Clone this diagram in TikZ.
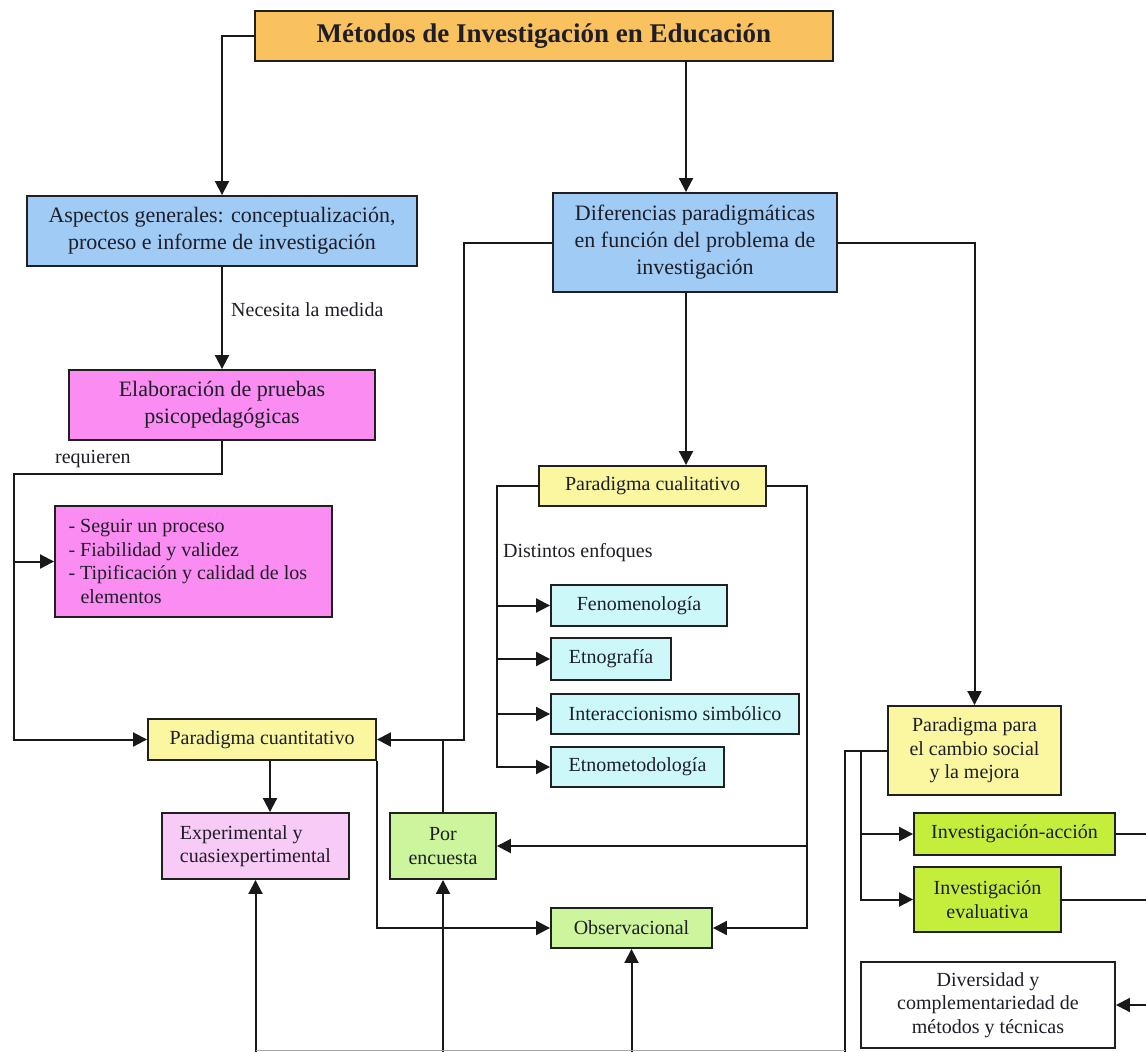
\documentclass[tikz,border=0pt]{standalone}
\usepackage{fontspec}
\setmainfont{Liberation Serif}
\usetikzlibrary{arrows.meta,calc}
\definecolor{cTitle}{HTML}{F9C25E}
\definecolor{cBlue}{HTML}{A0CBF5}
\definecolor{cMag}{HTML}{FA8CF2}
\definecolor{cYel}{HTML}{FAF7A0}
\definecolor{cPink}{HTML}{F8CAF6}
\definecolor{cGreen}{HTML}{CDF59D}
\definecolor{cCyan}{HTML}{CCF8FA}
\definecolor{cLime}{HTML}{C5EE3C}
\definecolor{boxline}{HTML}{202020}
\definecolor{txt}{HTML}{1E1E28}
\begin{document}
\begin{tikzpicture}[x=1pt,y=-1pt,
  box/.style={draw=boxline, line width=1.9pt, inner sep=0pt, text=txt,
    font=\fontsize{20}{23.5}\selectfont, align=center},
  big/.style={font=\fontsize{22}{27}\selectfont},
  lbl/.style={inner sep=0pt, text=txt, font=\fontsize{20}{23.5}\selectfont},
  conn/.style={draw=black!90, line width=2pt},
  arr/.style={conn, -{Triangle[length=14pt,width=14pt]}}
]
\useasboundingbox (0,0) rectangle (1146,1052);
\fill[white] (0,0) rectangle (1146,1052);

% guide coordinates
\coordinate (vA) at (686,0);
\coordinate (vB) at (464,0);
\coordinate (vC) at (270,0);
\coordinate (vD) at (497,0);
\coordinate (vE) at (807,0);
\coordinate (vF) at (845,0);
\coordinate (vG) at (861,0);
\coordinate (jL) at (14,474);
\coordinate (bot) at (0,1052);
\coordinate (bot2) at (0,1050.5);
\coordinate (re) at (1146,0);

% nodes
\node[box, fill=cTitle, minimum width=578pt, minimum height=50pt,
  font=\bfseries\fontsize{27}{32}\selectfont] (title) at (544,36)
  {Métodos de Investigación en Educación};
\node[box, big, fill=cBlue, minimum width=390pt, minimum height=70pt] (asp) at (222,231)
  {Aspectos generales: conceptualización,\\proceso e informe de investigación};
\node[box, big, fill=cBlue, minimum width=284pt, minimum height=99pt] (dif) at (695,242.5)
  {Diferencias paradigmáticas\\en función del problema de\\investigación};
\node[box, big, fill=cMag, minimum width=306pt, minimum height=70pt] (elab) at (222,405)
  {Elaboración de pruebas\\psicopedagógicas};
\node[box, fill=cMag, minimum width=277pt, minimum height=111pt, align=left] (list) at (193.5,561.5)
  {\makebox[0pt][l]{\parbox{250pt}{\raggedright - Seguir un proceso\\- Fiabilidad y validez\\- Tipificación y calidad de los\\\hspace*{12pt}elementos}}\hspace*{250pt}};
\node[box, fill=cYel, minimum width=228pt, minimum height=41pt] (cuant) at (262,739.5)
  {Paradigma cuantitativo};
\node[box, fill=cPink, minimum width=187pt, minimum height=66pt, align=left] (exp) at (255.5,846)
  {Experimental y\\cuasiexpertimental};
\node[box, fill=cGreen, minimum width=106pt, minimum height=66pt] (enc) at (443,846)
  {Por\\encuesta};
\node[box, fill=cGreen, minimum width=161pt, minimum height=40pt] (obs) at (631.5,928)
  {Observacional};
\node[box, fill=cYel, minimum width=227pt, minimum height=40pt] (cual) at (652.5,486)
  {Paradigma cualitativo};
\node[box, fill=cCyan, minimum width=176pt, minimum height=41pt] (fen) at (639,605.5)
  {Fenomenología};
\node[box, fill=cCyan, minimum width=120pt, minimum height=42pt] (etn) at (611,659)
  {Etnografía};
\node[box, fill=cCyan, minimum width=248pt, minimum height=40pt] (int) at (675,714)
  {Interaccionismo simbólico};
\node[box, fill=cCyan, minimum width=173pt, minimum height=40pt] (etm) at (637.5,767)
  {Etnometodología};
\node[box, fill=cYel, minimum width=173pt, minimum height=89pt] (para) at (974.5,750.5)
  {Paradigma para\\el cambio social\\y la mejora};
\node[box, fill=cLime, minimum width=201pt, minimum height=42pt] (ia) at (1014.5,834)
  {Investigación-acción};
\node[box, fill=cLime, minimum width=147pt, minimum height=65pt] (ie) at (987.5,899.5)
  {Investigación\\evaluativa};
\node[box, fill=white, minimum width=254pt, minimum height=86pt] (div) at (988,1005)
  {Diversidad y\\complementariedad de\\métodos y técnicas};

% labels
\node[lbl, anchor=west] (lNec) at (231,310) {Necesita la medida};
\node[lbl, anchor=west] (lReq) at (55,459) {requieren};
\node[lbl, anchor=west] (lDis) at (503,553) {Distintos enfoques};

% connectors
\draw[arr] (title.west) -| (asp.north);
\draw[arr] (title.south -| vA) -- (dif.north -| vA);
\draw[arr] (asp.south) -- (elab.north);
\draw[arr] (elab.south) |- (jL) |- (cuant.west);
\draw[arr] (jL |- list.west) -- (list.west);
\draw[arr] (dif.west) -| (vB |- cuant.east) -- (cuant.east);
\draw[conn] (enc.north) -- (enc.north |- cuant.east);
\draw[arr] (cuant.south -| vC) -- (exp.north -| vC);
\draw[arr] (cuant.south east) |- (obs.west);
\draw[arr] (dif.south -| vA) -- (cual.north -| vA);
\draw[arr] (cual.west) -| (vD |- etm.west) -- (etm.west);
\foreach \n in {fen,etn,int} \draw[arr] (vD |- \n.west) -- (\n.west);
\draw[arr] (cual.east) -| (vE |- obs.east) -- (obs.east);
\draw[arr] (vE |- enc.east) -- (enc.east);
\draw[arr] (dif.east) -| (para.north);
\draw[conn] (para.west) -| (vF |- bot);
\draw[arr] (vG |- para.west) |- (ia.west);
\draw[arr] (vG |- para.west) |- (ie.west);
\draw[conn] (ia.east) -- (ia.east -| re);
\draw[conn] (ie.east) -- (ie.east -| re);
\draw[arr] (div.east -| re) -- (div.east);
\draw[arr] (exp.south |- bot) -- (exp.south);
\draw[arr] (enc.south |- bot) -- (enc.south);
\draw[arr] (obs.south |- bot) -- (obs.south);
\draw[black!35, line width=1pt] (exp.south |- bot2) -- (vF |- bot2);
\end{tikzpicture}
\end{document}
